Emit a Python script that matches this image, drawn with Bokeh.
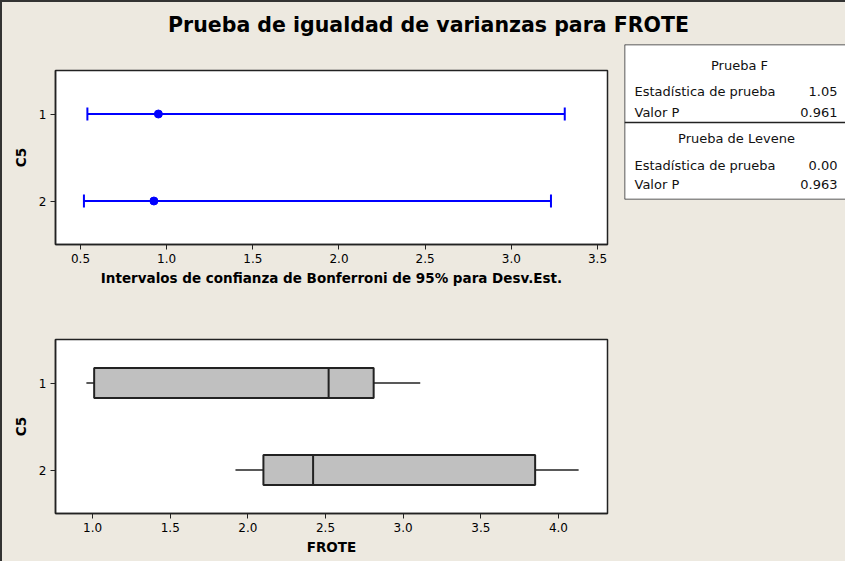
from bokeh.plotting import figure
from bokeh.models import Range1d, FixedTicker, Whisker, TeeHead, ColumnDataSource, Span, NumeralTickFormatter
from bokeh.layouts import column, row
from bokeh.core.properties import value
from bokeh.embed import file_html
from bokeh.resources import INLINE

# ---------------- data ----------------
title_text = "Prueba de igualdad de varianzas para FROTE"
group_labels = ["1", "2"]
group_pos = [1, 2]

# Bonferroni 95% CI for sigma
ci_lower = [0.54, 0.52]
ci_sigma = [0.952, 0.926]
ci_upper = [3.31, 3.23]

# box plot of FROTE by C5
wh_low = [0.96, 1.92]
q1 = [1.01, 2.10]
median = [2.52, 2.42]
q3 = [2.81, 3.85]
wh_high = [3.11, 4.13]

top_ticks = [0.5, 1.0, 1.5, 2.0, 2.5, 3.0, 3.5]
bottom_ticks = [1.0, 1.5, 2.0, 2.5, 3.0, 3.5, 4.0]

test_names = ["Prueba F", "Prueba de Levene"]
stat_labels = ["Estadística de prueba", "Valor P"]
f_values = ["1.05", "0.961"]
levene_values = ["0.00", "0.963"]

# ---------------- style ----------------
FONT = "DejaVu Sans"
BEIGE = "#EDE9E0"
DARK = "#222222"
BLUE = "#0000FF"


def style_axes(p, xlabel, ylabel, xticks):
    p.xaxis.axis_label = xlabel
    p.yaxis.axis_label = ylabel
    p.xaxis.ticker = FixedTicker(ticks=xticks)
    p.xaxis.formatter = NumeralTickFormatter(format="0.0")
    p.yaxis.ticker = FixedTicker(ticks=group_pos)
    p.yaxis.major_label_overrides = {pos: lab for pos, lab in zip(group_pos, group_labels)}
    for ax in p.axis:
        ax.major_label_text_font = FONT
        ax.major_label_text_font_size = "12px"
        ax.major_label_text_color = "black"
        ax.axis_label_text_font = FONT
        ax.axis_label_text_font_size = "13.5px"
        ax.axis_label_text_font_style = "bold"
        ax.axis_label_text_color = "black"
        ax.minor_tick_line_color = None
        ax.major_tick_in = 0
        ax.major_tick_out = 5
        ax.major_tick_line_color = DARK
        ax.axis_line_color = DARK
        ax.axis_line_width = 1.5
        ax.major_label_standoff = 4
    p.xaxis.axis_label_standoff = 4
    p.yaxis.axis_label_standoff = 7
    p.xgrid.visible = False
    p.ygrid.visible = False


common = dict(output_backend="svg", toolbar_location=None,
              border_fill_color=None, background_fill_color="white",
              outline_line_color=DARK, outline_line_width=1.5)

# ---------------- title ----------------
figT = figure(width=845, height=40, x_range=Range1d(0, 845), y_range=Range1d(0, 40),
              min_border=0, x_axis_type=None, y_axis_type=None,
              output_backend="svg", toolbar_location=None,
              border_fill_color=None, background_fill_color=None, outline_line_color=None)
figT.xgrid.visible = False
figT.ygrid.visible = False
figT.text(x=[428], y=[16], text=[title_text], text_font=value(FONT), text_font_size="20.5px",
          text_font_style="bold", text_align="center", text_baseline="middle", text_color="black")

# ---------------- CI plot ----------------
figA = figure(width=618, height=252, x_range=Range1d(0.355, 3.558), y_range=Range1d(2.5, 0.5),
              min_border_left=55, min_border_right=11, min_border_top=30, min_border_bottom=48,
              **common)
style_axes(figA, "Intervalos de confianza de Bonferroni de 95% para Desv.Est.", "C5", top_ticks)

ci_src = ColumnDataSource(dict(y=group_pos, lo=ci_lower, hi=ci_upper, s=ci_sigma))
wk = Whisker(source=ci_src, base="y", lower="lo", upper="hi", dimension="width",
             line_color=BLUE, line_width=2,
             upper_head=TeeHead(size=13, line_color=BLUE, line_width=2),
             lower_head=TeeHead(size=13, line_color=BLUE, line_width=2))
figA.add_layout(wk)
figA.scatter("s", "y", source=ci_src, size=8, color=BLUE)

# ---------------- table ----------------
tab_w, tab_h = 221, 155
tab_common = dict(common)
tab_common["outline_line_color"] = None
figTab = figure(width=227, height=252, x_range=Range1d(0, tab_w), y_range=Range1d(tab_h, 0),
                min_border_left=6, min_border_right=0, min_border_top=4, min_border_bottom=93,
                x_axis_type=None, y_axis_type=None, **tab_common)
figTab.xgrid.visible = False
figTab.ygrid.visible = False
txt = dict(text_font=value(FONT), text_font_size="13px", text_color="#111111", text_baseline="middle")
figTab.text(x=[115, 112], y=[21, 94], text=test_names, text_align="center", **txt)
figTab.text(x=[10, 10, 10, 10], y=[47, 68, 121, 140], text=stat_labels + stat_labels,
            text_align="left", **txt)
figTab.text(x=[213, 213, 213, 213], y=[47, 68, 121, 140], text=f_values + levene_values,
            text_align="right", **txt)
# box edges (the right edge runs off the page in the original)
for loc in (0, 78, tab_h):
    figTab.add_layout(Span(location=loc, dimension="width", line_color=DARK, line_width=1.5))
figTab.add_layout(Span(location=0, dimension="height", line_color=DARK, line_width=1.5))

# ---------------- box plot ----------------
figB = figure(width=845, height=269, x_range=Range1d(0.761, 4.316), y_range=Range1d(2.5, 0.5),
              min_border_left=55, min_border_right=238, min_border_top=47, min_border_bottom=48,
              **common)
style_axes(figB, "FROTE", "C5", bottom_ticks)

box_height = 0.346
box_src = ColumnDataSource(dict(y=group_pos, lo=wh_low, q1=q1, med=median, q3=q3, hi=wh_high,
                                ytop=[g - box_height / 2 for g in group_pos],
                                ybot=[g + box_height / 2 for g in group_pos]))
figB.segment(x0="lo", y0="y", x1="q1", y1="y", source=box_src, line_color=DARK, line_width=1.5)
figB.segment(x0="q3", y0="y", x1="hi", y1="y", source=box_src, line_color=DARK, line_width=1.5)
figB.hbar(y="y", height=box_height, left="q1", right="q3", source=box_src,
          fill_color="#C0C0C0", line_color=DARK, line_width=2)
figB.segment(x0="med", y0="ytop", x1="med", y1="ybot", source=box_src, line_color=DARK, line_width=2)

# nested wrappers keep each figure's own frame (no cross-figure frame alignment)
layout = column(row(figT), row(column(figA), column(figTab)), row(figB),
                styles={"background-color": BEIGE, "box-shadow": "inset 2px 2px 0 0 #333333"})

open("out.html", "w").write(file_html(layout, INLINE))
